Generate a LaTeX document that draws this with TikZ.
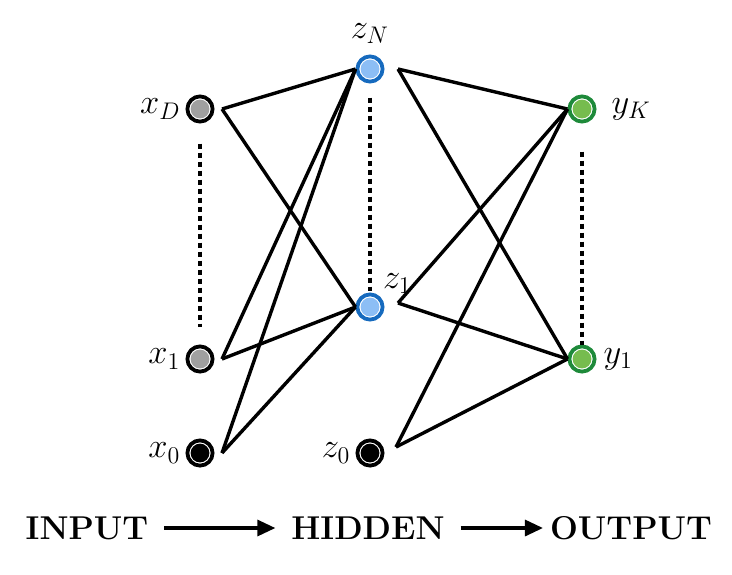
\documentclass[tikz,border=0pt]{standalone}
\usetikzlibrary{arrows.meta}

\definecolor{hidring}{RGB}{22,106,190}
\definecolor{hidfill}{RGB}{140,190,245}
\definecolor{outring}{RGB}{30,138,58}
\definecolor{outfill}{RGB}{118,188,78}
\definecolor{infill}{RGB}{160,160,160}

\begin{document}
\begin{tikzpicture}[x=0.5pt, y=-0.5pt,
    unit/.style 2 args={circle, draw=#1, line width=1.9pt, fill=white,
        minimum size=12.6pt, inner sep=0pt,
        path picture={\fill[#2] (path picture bounding box.center) circle (4.7pt);}},
    every label/.style={font=\fontsize{16.5}{20}\selectfont},
    edge/.style={line width=1.7pt},
    dots/.style={line width=1.6pt, dash pattern=on 2.5pt off 2pt},
    flow/.style={line width=1.6pt, -{Triangle[length=9pt, width=8pt]}},
    stage/.style={font=\fontsize{16.5}{20}\selectfont\bfseries}]

    \useasboundingbox (0,0) rectangle (732,574);

    % input layer
    \node[unit={black}{infill}, label={[label distance=-1pt]left:$x_D$}] (xD) at (200,109) {};
    \node[unit={black}{infill}, label={[label distance=-1pt]left:$x_1$}] (x1) at (200,359) {};
    \node[unit={black}{black}, label={[label distance=-1pt]left:$x_0$}] (x0) at (200,453) {};

    % hidden layer
    \node[unit={hidring}{hidfill}, label={[label distance=2pt]above:$z_N$}] (zN) at (370,69) {};
    \node[unit={hidring}{hidfill}, label={[label distance=-3pt]above right:$z_1$}] (z1) at (370,307) {};
    \node[unit={black}{black}, label={[label distance=-1pt]left:$z_0$}] (z0) at (370,453) {};

    % output layer
    \node[unit={outring}{outfill}, label={[label distance=4pt]right:$y_K$}] (yK) at (582,109) {};
    \node[unit={outring}{outfill}, label={[label distance=0pt]right:$y_1$}] (y1) at (582,359) {};

    % where the weights leave each unit
    \coordinate (xD-o) at ([xshift=11pt]xD.center);
    \coordinate (x1-o) at ([xshift=11pt]x1.center);
    \coordinate (x0-o) at ([xshift=11pt]x0.center);
    \coordinate (zN-o) at ([xshift=14pt]zN.center);
    \coordinate (z1-o) at ([xshift=14pt,yshift=2pt]z1.center);
    \coordinate (z0-o) at ([xshift=13pt,yshift=3pt]z0.center);

    \draw[edge] (xD-o) -- (zN.west);
    \draw[edge] (xD-o) -- (z1.west);
    \draw[edge] (x1-o) -- (zN.west);
    \draw[edge] (x1-o) -- (z1.west);
    \draw[edge] (x0-o) -- (zN.west);
    \draw[edge] (x0-o) -- (z1.west);

    \draw[edge] (zN-o) -- (yK.west);
    \draw[edge] (zN-o) -- (y1.west);
    \draw[edge] (z1-o) -- (yK.west);
    \draw[edge] (z1-o) -- (y1.west);
    \draw[edge] (z0-o) -- (yK.west);
    \draw[edge] (z0-o) -- (y1.west);

    % the hidden units in between
    \draw[dots, shorten <=10pt, shorten >=9pt] (xD.south) -- (x1.north);
    \draw[dots, shorten <=7pt, shorten >=1pt] (zN.south) -- (z1.north);
    \draw[dots, shorten <=14pt, shorten >=0pt] (yK.south) -- (y1.north);

    % bottom line
    \node[stage] (in) at (87,528) {INPUT};
    \node[stage] (hid) at (368,528) {HIDDEN};
    \node[stage] (out) at (631,528) {OUTPUT};
    \draw[flow, shorten <=4.5pt, shorten >=4.5pt] (in) -- (hid);
    \draw[flow, shorten <=4.5pt, shorten >=0pt] (hid) -- (out);
\end{tikzpicture}
\end{document}
